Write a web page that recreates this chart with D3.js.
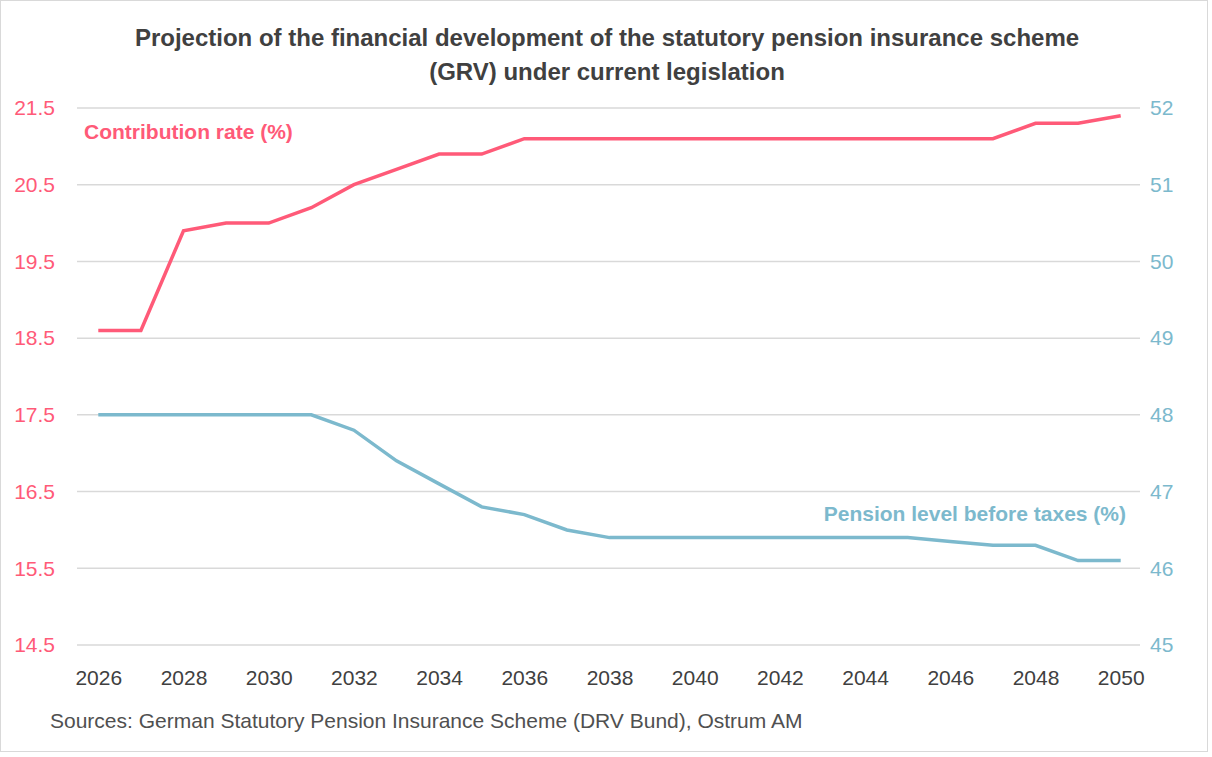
<!DOCTYPE html>
<html>
<head>
<meta charset="utf-8">
<script src="https://cdn.jsdelivr.net/npm/d3@7"></script>
<style>
  body { margin: 0; background: #fff; }
  svg text { font-family: "Liberation Sans Narrow", "Arial Narrow", "Liberation Sans", Arial, sans-serif; }
</style>
</head>
<body>
<div id="chart"></div>
<script>
// Datos del gráfico
const years = d3.range(2026, 2051);
const contributionRate = [18.6, 18.6, 19.9, 20.0, 20.0, 20.2, 20.5, 20.7, 20.9, 20.9, 21.1, 21.1, 21.1,
    21.1, 21.1, 21.1, 21.1, 21.1, 21.1, 21.1, 21.1, 21.1, 21.3, 21.3, 21.4];
const pensionLevel = [48.0, 48.0, 48.0, 48.0, 48.0, 48.0, 47.8, 47.4, 47.1, 46.8, 46.7, 46.5, 46.4,
    46.4, 46.4, 46.4, 46.4, 46.4, 46.4, 46.4, 46.35, 46.3, 46.3, 46.1, 46.1];
const leftTicks = [14.5, 15.5, 16.5, 17.5, 18.5, 19.5, 20.5, 21.5];
const rightTicks = [45, 46, 47, 48, 49, 50, 51, 52];
const xTicks = d3.range(2026, 2051, 2);

const titleLines = [
    "Projection of the financial development of the statutory pension insurance scheme",
    "(GRV) under current legislation"
];
const sourceText = "Sources: German Statutory Pension Insurance Scheme (DRV Bund), Ostrum AM";

// Dimensiones
const W = 1212, H = 757;
const plotLeft = 77, plotRight = 1142, plotTop = 108, plotBottom = 645;
const pink = "#ff5a78", blue = "#7cb9cd", grey = "#404040";

const svg = d3.select("#chart").append("svg")
    .attr("width", W)
    .attr("height", H);

// Marco exterior
svg.append("rect")
    .attr("x", 0.5).attr("y", 0.5)
    .attr("width", W - 5).attr("height", H - 6)
    .attr("fill", "#fff")
    .attr("stroke", "#d9d9d9");

// Escalas
const x = d3.scalePoint()
    .domain(years)
    .range([plotLeft, plotRight])
    .padding(0.5);

const yLeft = d3.scaleLinear().domain([14.5, 21.5]).range([plotBottom, plotTop]);
const yRight = d3.scaleLinear().domain([45, 52]).range([plotBottom, plotTop]);

// Cuadrícula horizontal
svg.selectAll("line.grid")
    .data(leftTicks)
    .enter()
    .append("line")
    .attr("class", "grid")
    .attr("x1", plotLeft)
    .attr("x2", plotRight - 2)
    .attr("y1", d => yLeft(d))
    .attr("y2", d => yLeft(d))
    .attr("stroke", "#d9d9d9")
    .attr("stroke-width", 1.5);

// Eje izquierdo
const axLeft = svg.append("g")
    .attr("transform", `translate(${plotLeft - 19}, 0)`)
    .call(d3.axisLeft(yLeft).tickValues(leftTicks).tickFormat(d3.format(".1f")).tickSize(0));
axLeft.select(".domain").remove();
axLeft.selectAll("text").attr("fill", pink).style("font-size", "21px").attr("dx", 0);

// Eje derecho
const axRight = svg.append("g")
    .attr("transform", `translate(${plotRight + 5}, 0)`)
    .call(d3.axisRight(yRight).tickValues(rightTicks).tickFormat(d3.format("d")).tickSize(0));
axRight.select(".domain").remove();
axRight.selectAll("text").attr("fill", blue).style("font-size", "21px");

// Eje X
const axX = svg.append("g")
    .attr("transform", `translate(0, ${plotBottom + 22})`)
    .call(d3.axisBottom(x).tickValues(xTicks).tickSize(0));
axX.select(".domain").remove();
axX.selectAll("text").attr("fill", grey).style("font-size", "21px");

// Líneas
const lineLeft = d3.line()
    .x((d, i) => x(years[i]))
    .y(d => yLeft(d));
const lineRight = d3.line()
    .x((d, i) => x(years[i]))
    .y(d => yRight(d));

svg.append("path")
    .datum(contributionRate)
    .attr("fill", "none")
    .attr("stroke", pink)
    .attr("stroke-width", 3.5)
    .attr("d", lineLeft);

svg.append("path")
    .datum(pensionLevel)
    .attr("fill", "none")
    .attr("stroke", blue)
    .attr("stroke-width", 3.5)
    .attr("d", lineRight);

// Etiquetas de series
svg.append("text")
    .attr("x", 84).attr("y", 139)
    .attr("fill", pink)
    .style("font-size", "21px")
    .style("font-weight", "bold")
    .text("Contribution rate (%)");

svg.append("text")
    .attr("x", 1126).attr("y", 521)
    .attr("text-anchor", "end")
    .attr("fill", blue)
    .style("font-size", "21px")
    .style("font-weight", "bold")
    .text("Pension level before taxes (%)");

// Título
svg.selectAll("text.title")
    .data(titleLines)
    .enter()
    .append("text")
    .attr("class", "title")
    .attr("x", 607)
    .attr("y", (d, i) => 46 + i * 34)
    .attr("text-anchor", "middle")
    .attr("fill", grey)
    .style("font-size", "24px")
    .style("font-weight", "bold")
    .text(d => d);

// Fuente
svg.append("text")
    .attr("x", 50).attr("y", 728)
    .attr("fill", "#505050")
    .style("font-size", "21px")
    .text(sourceText);
</script>
</body>
</html>
